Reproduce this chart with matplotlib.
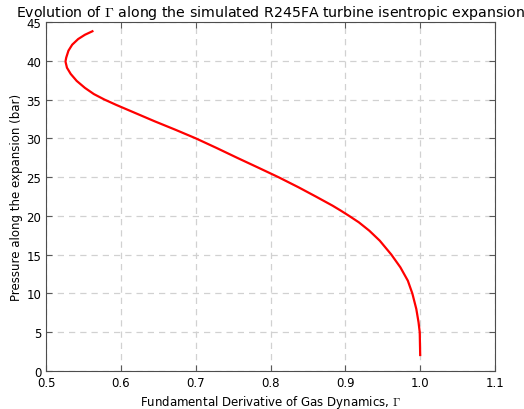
import matplotlib
matplotlib.use("Agg")
import matplotlib.pyplot as plt
import numpy as np

plt.rcParams["mathtext.fontset"] = "cm"

# fundamental derivative of gas dynamics along the expansion, and pressure (bar)
gamma = [0.562, 0.552, 0.543, 0.535, 0.530, 0.527, 0.526, 0.528, 0.533,
         0.541, 0.552, 0.564, 0.578, 0.594, 0.611, 0.628, 0.645, 0.673,
         0.700, 0.728, 0.756, 0.784, 0.811, 0.8375, 0.861, 0.883, 0.894,
         0.9045, 0.918, 0.932, 0.946, 0.9615, 0.9735, 0.9835, 0.9895,
         0.9948, 0.9978, 0.9994, 1.000]
pressure = [43.8, 43.35, 42.8, 42.07, 41.3, 40.4, 39.9, 39.1, 38.3,
            37.4, 36.5, 35.7, 35.0, 34.3, 33.6, 32.9, 32.2, 31.1,
            30.0, 28.75, 27.46, 26.2, 24.97, 23.68, 22.47, 21.31, 20.67,
            20.03, 19.17, 18.09, 16.8, 15.0, 13.37, 11.64, 10.0,
            8.0, 6.28, 5.0, 2.06]

xticks = np.arange(0.5, 1.11, 0.1)
yticks = np.arange(0, 46, 5)

fig = plt.figure(figsize=(5.24, 4.10), dpi=100)
ax = fig.add_axes([0.0878, 0.0927, 0.8569, 0.8513])

ax.plot(gamma, pressure, color="red", lw=1.6, solid_joinstyle="round")

ax.set_xlim(0.5, 1.1)
ax.set_ylim(0, 45)
ax.set_xticks(xticks)
ax.set_yticks(yticks)
ax.set_xticklabels(["%.1f" % v for v in xticks])
ax.tick_params(direction="in", top=True, right=True, length=4, labelsize=8.5,
               color="0.35")
for sp in ax.spines.values():
    sp.set_color("0.3")
ax.grid(True, color="0.82", linestyle=(0, (5, 4)), lw=0.9)
ax.set_axisbelow(True)

ax.set_xlabel(r"Fundamental Derivative of Gas Dynamics, $\Gamma$", fontsize=8.5, labelpad=3)
ax.set_ylabel("Pressure along the expansion (bar)", fontsize=8.5, labelpad=2.5)
ax.set_title(r"Evolution of $\Gamma$ along the simulated R245FA turbine isentropic expansion",
             fontsize=10.2, pad=4)

fig.savefig("out.png", dpi=100)
